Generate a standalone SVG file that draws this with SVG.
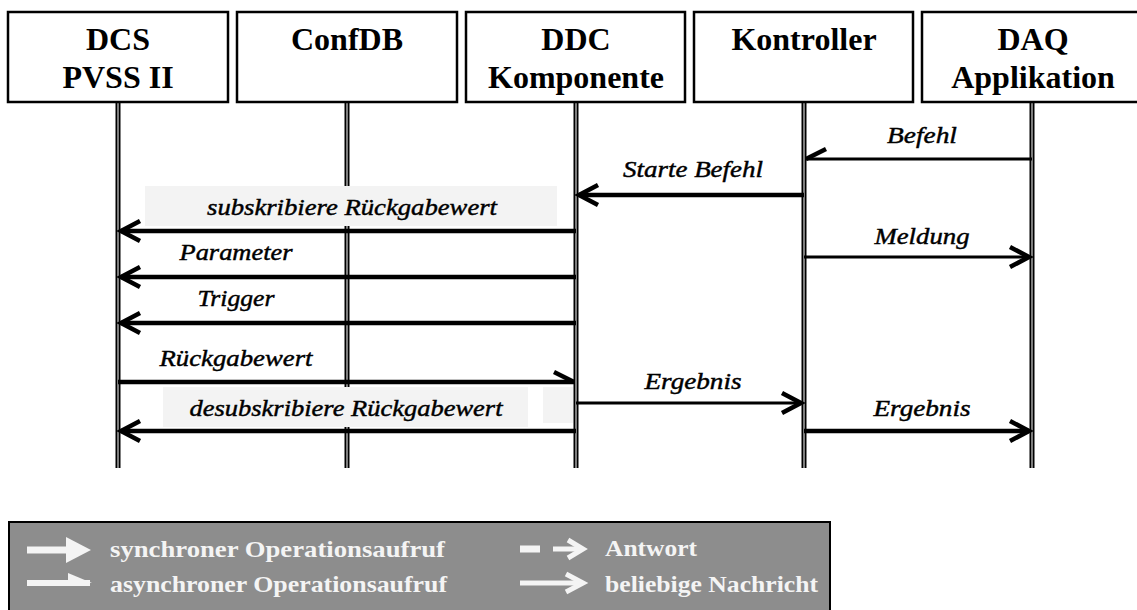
<svg xmlns="http://www.w3.org/2000/svg" width="1137" height="610" viewBox="0 0 1137 610">
  <style>
    .box { fill: #ffffff; stroke: #000000; stroke-width: 2.5; }
    .head { font-family: "Liberation Serif", "Times New Roman", serif; font-weight: bold; font-size: 32px; fill: #000000; text-anchor: middle; }
    .life-outer { stroke: #000000; stroke-width: 5; fill: none; }
    .life-inner { stroke: #d0d0d0; stroke-width: 1.2; fill: none; }
    .msg { stroke: #000000; fill: none; }
    .thick { stroke-width: 4.5; }
    .thin { stroke-width: 3.2; }
    .lbl { font-family: "Liberation Serif", "Times New Roman", serif; font-style: italic; font-size: 24px; fill: #000000; stroke: #000000; stroke-width: 0.45; text-anchor: middle; }
    .lblbg { fill: #f3f3f3; }
    .legend { fill: #8d8d8d; stroke: #000000; stroke-width: 2; }
    .leg { font-family: "Liberation Serif", "Times New Roman", serif; font-weight: bold; font-size: 24px; fill: #f4f4f4; }
    .wline { stroke: #f4f4f4; fill: none; }
  </style>
  <defs>
    <!-- open arrowhead, two barbs -->
    <marker id="open" markerUnits="userSpaceOnUse" orient="auto" overflow="visible" refX="0" refY="0" markerWidth="1" markerHeight="1">
      <path d="M-19,-10 L0,0 L-19,10" fill="none" stroke="#000" stroke-width="4.5" stroke-linejoin="miter"/>
    </marker>
    <!-- half arrowhead for rightward lines: barb above -->
    <marker id="halfR" markerUnits="userSpaceOnUse" orient="auto" overflow="visible" refX="0" refY="0" markerWidth="1" markerHeight="1">
      <path d="M-20,-10 L0,0" fill="none" stroke="#000" stroke-width="4.5"/>
    </marker>
    <!-- half arrowhead for leftward lines: barb above after rotation -->
    <marker id="halfL" markerUnits="userSpaceOnUse" orient="auto" overflow="visible" refX="0" refY="0" markerWidth="1" markerHeight="1">
      <path d="M-20,10 L0,0" fill="none" stroke="#000" stroke-width="4.5"/>
    </marker>
  </defs>

  <rect x="0" y="0" width="1137" height="610" fill="#ffffff"/>

  <!-- lifelines -->
  <g id="lifelines">
    <path class="life-outer" d="M118,102 V468 M347,102 V468 M576,102 V468 M804,102 V468 M1032,102 V468"/>
    <path class="life-inner" d="M118,102 V468 M347,102 V468 M576,102 V468 M804,102 V468 M1032,102 V468"/>
  </g>

  <!-- participants -->
  <g id="dcs">
    <rect class="box" x="8" y="12" width="220" height="90"/>
    <text class="head" x="118" y="50">DCS</text>
    <text class="head" x="118" y="88">PVSS II</text>
  </g>
  <g id="confdb">
    <rect class="box" x="237" y="12" width="220" height="90"/>
    <text class="head" x="347" y="50">ConfDB</text>
  </g>
  <g id="ddc">
    <rect class="box" x="466" y="12" width="219" height="90"/>
    <text class="head" x="576" y="50">DDC</text>
    <text class="head" x="576" y="88">Komponente</text>
  </g>
  <g id="kontroller">
    <rect class="box" x="694" y="12" width="219" height="90"/>
    <text class="head" x="804" y="50">Kontroller</text>
  </g>
  <g id="daq">
    <rect class="box" x="922" y="12" width="222" height="90"/>
    <text class="head" x="1033" y="50">DAQ</text>
    <text class="head" x="1033" y="88">Applikation</text>
  </g>

  <!-- label backgrounds -->
  <g id="label-bg">
    <rect class="lblbg" x="145" y="186" width="412" height="40"/>
    <rect class="lblbg" x="163" y="387" width="365" height="40"/>
    <rect class="lblbg" x="543" y="387" width="30" height="36"/>
  </g>

  <!-- messages -->
  <g id="connectors">
    <line class="msg thin" x1="1032" y1="159" x2="806" y2="159" marker-end="url(#halfL)"/>
    <line class="msg thick" x1="804" y1="195" x2="579" y2="195" marker-end="url(#open)"/>
    <line class="msg thick" x1="576" y1="231" x2="121" y2="231" marker-end="url(#open)"/>
    <line class="msg thin" x1="804" y1="257" x2="1029" y2="257" marker-end="url(#open)"/>
    <line class="msg thick" x1="576" y1="277" x2="121" y2="277" marker-end="url(#open)"/>
    <line class="msg thick" x1="576" y1="323" x2="121" y2="323" marker-end="url(#open)"/>
    <line class="msg thick" x1="118" y1="382" x2="574" y2="382" marker-end="url(#halfR)"/>
    <line class="msg thin" x1="576" y1="403" x2="801" y2="403" marker-end="url(#open)"/>
    <line class="msg thick" x1="576" y1="431" x2="121" y2="431" marker-end="url(#open)"/>
    <line class="msg thick" x1="804" y1="431" x2="1029" y2="431" marker-end="url(#open)"/>
  </g>

  <!-- message labels -->
  <g id="labels">
    <text class="lbl" x="922" y="143" textLength="70" lengthAdjust="spacingAndGlyphs">Befehl</text>
    <text class="lbl" x="693" y="177" textLength="140" lengthAdjust="spacingAndGlyphs">Starte Befehl</text>
    <text class="lbl" x="352" y="215" textLength="290" lengthAdjust="spacingAndGlyphs">subskribiere Rückgabewert</text>
    <text class="lbl" x="922" y="244" textLength="95" lengthAdjust="spacingAndGlyphs">Meldung</text>
    <text class="lbl" x="236" y="260" textLength="113" lengthAdjust="spacingAndGlyphs">Parameter</text>
    <text class="lbl" x="236" y="306" textLength="77" lengthAdjust="spacingAndGlyphs">Trigger</text>
    <text class="lbl" x="236" y="366" textLength="153" lengthAdjust="spacingAndGlyphs">Rückgabewert</text>
    <text class="lbl" x="693" y="389" textLength="97" lengthAdjust="spacingAndGlyphs">Ergebnis</text>
    <text class="lbl" x="346" y="416" textLength="313" lengthAdjust="spacingAndGlyphs">desubskribiere Rückgabewert</text>
    <text class="lbl" x="922" y="416" textLength="97" lengthAdjust="spacingAndGlyphs">Ergebnis</text>
  </g>

  <!-- legend -->
  <g id="legend">
    <rect class="legend" x="9" y="522" width="821" height="100"/>
    <line class="wline" x1="27" y1="550" x2="68" y2="550" stroke-width="7"/>
    <polygon points="66,537 91,550 66,563" fill="#f4f4f4"/>
    <text class="leg" x="110" y="557" textLength="335" lengthAdjust="spacingAndGlyphs">synchroner Operationsaufruf</text>

    <line class="wline" x1="27" y1="583" x2="90" y2="583" stroke-width="6"/>
    <polygon points="68,573 92,583 68,583" fill="#f4f4f4"/>
    <text class="leg" x="110" y="592" textLength="337" lengthAdjust="spacingAndGlyphs">asynchroner Operationsaufruf</text>

    <line class="wline" x1="520" y1="549" x2="540" y2="549" stroke-width="7"/>
    <line class="wline" x1="553" y1="549" x2="581" y2="549" stroke-width="5"/>
    <path class="wline" d="M568,540 L583,549 L568,558" stroke-width="5"/>
    <text class="leg" x="605" y="556" textLength="92" lengthAdjust="spacingAndGlyphs">Antwort</text>

    <line class="wline" x1="520" y1="583" x2="581" y2="583" stroke-width="5"/>
    <path class="wline" d="M566,574 L583,583 L566,592" stroke-width="5"/>
    <text class="leg" x="605" y="592" textLength="213" lengthAdjust="spacingAndGlyphs">beliebige Nachricht</text>
  </g>
</svg>
